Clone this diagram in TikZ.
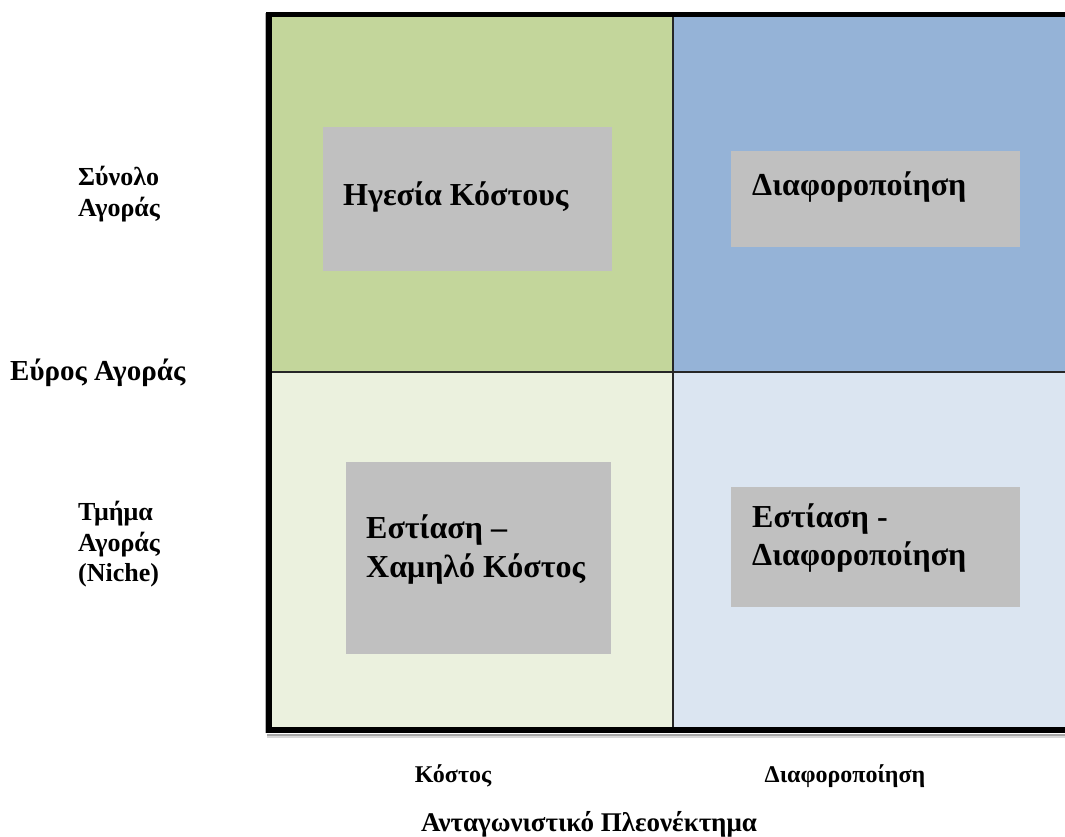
\documentclass[tikz,border=0pt]{standalone}
\usepackage{fontspec}
\setmainfont{Liberation Serif}
\begin{document}
\begin{tikzpicture}[x=1pt,y=-1pt,
  greybox/.style={fill=boxgrey,draw=none},
  boxtext/.style={anchor=base west,inner sep=0pt,font=\fontsize{32}{38}\selectfont\bfseries},
  sidetext/.style={anchor=base west,inner sep=0pt,font=\fontsize{26}{31}\selectfont\bfseries},
  widetext/.style={anchor=base west,inner sep=0pt,font=\fontsize{29}{34}\selectfont\bfseries},
  axistext/.style={anchor=base,inner sep=0pt,font=\fontsize{24}{28}\selectfont\bfseries},
  titletext/.style={anchor=base,inner sep=0pt,font=\fontsize{27}{32}\selectfont\bfseries},
  divider/.style={line width=2pt,black!85},
  frameline/.style={line width=5.5pt,black}]
\definecolor{tlgreen}{HTML}{C3D69B}
\definecolor{trblue}{HTML}{95B3D7}
\definecolor{blgreen}{HTML}{EBF1DE}
\definecolor{brblue}{HTML}{DBE5F1}
\definecolor{boxgrey}{HTML}{C0C0C0}
\useasboundingbox (0,0) rectangle (1065,836);
\begin{scope}
\clip (0,0) rectangle (1065,836);
% quadrant fills
\fill[tlgreen] (269,14.5) rectangle (673,372);
\fill[trblue]  (673,14.5) rectangle (1080,372);
\fill[blgreen] (269,372) rectangle (673,730);
\fill[brblue]  (673,372) rectangle (1080,730);
% soft shadow round the frame
\draw[line width=2pt,black!35] (267,734.5) -- (1080,734.5);
\draw[line width=2pt,black!15] (267,736.5) -- (1080,736.5);
\draw[line width=1pt,black!30] (265.5,13) -- (265.5,733);
% dividers
\coordinate (vtop) at (673,14.5);
\coordinate (vbot) at (673,730);
\coordinate (hl) at (269,372);
\coordinate (hr) at (1080,372);
\draw[divider] (vtop) -- (vbot);
\draw[divider] (hl) -- (hr);
% outer frame
\draw[frameline] (1080,14.5) -- (269,14.5) -- (269,730) -- (1080,730);
\end{scope}
% grey strategy boxes
\fill[greybox] (323,127) rectangle (612,271);
\fill[greybox] (731,151) rectangle (1020,247);
\fill[greybox] (346,462) rectangle (611,654);
\fill[greybox] (731,487) rectangle (1020,607);
% box labels
\node[boxtext] (tla) at (343,205) {Ηγεσία Κόστους};
\node[boxtext] (tra) at (752,195) {Διαφοροποίηση};
\node[boxtext] (bla) at (366,538) {Εστίαση –};
\node[boxtext] (blb) at (366,577) {Χαμηλό Κόστος};
\node[boxtext] (bra) at (752,527) {Εστίαση -};
\node[boxtext] (brb) at (752,565) {Διαφοροποίηση};
% vertical axis labels
\node[sidetext] (s1) at (78,185) {Σύνολο};
\node[sidetext] (s2) at (78,216) {Αγοράς};
\node[widetext] (ey) at (10,380) {Εύρος Αγοράς};
\node[sidetext] (t1) at (78,520) {Τμήμα};
\node[sidetext] (t2) at (78,551) {Αγοράς};
\node[sidetext] (t3) at (78,581) {(Niche)};
% horizontal axis labels
\node[axistext] (kx) at (453,782) {Κόστος};
\node[axistext] (dx) at (845,782) {Διαφοροποίηση};
\node[titletext] (ax) at (589,831) {Ανταγωνιστικό Πλεονέκτημα};
\end{tikzpicture}
\end{document}
